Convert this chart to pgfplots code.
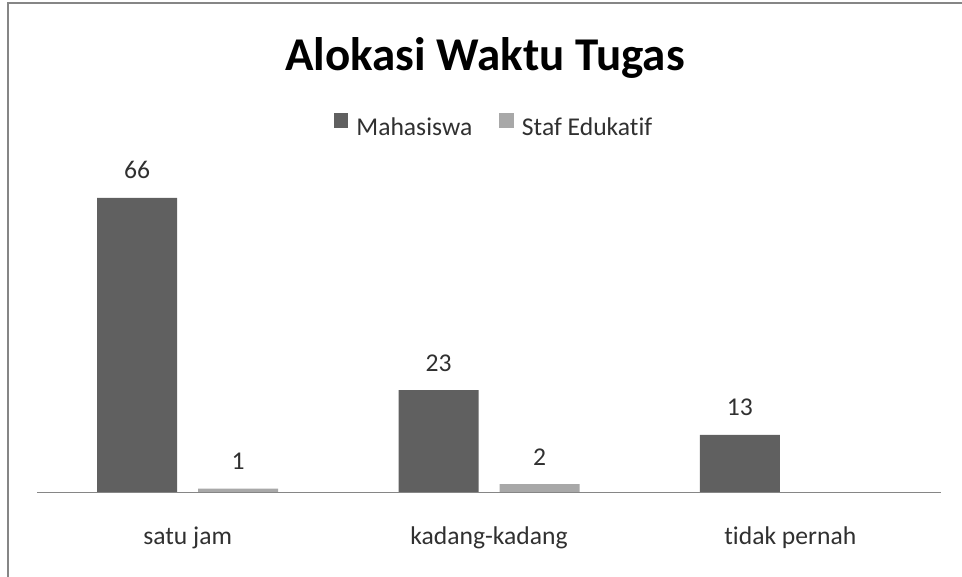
\documentclass[border=0pt]{standalone}
\usepackage{fontspec}
\setmainfont{Carlito}[Ligatures={NoCommon}]
\usepackage{pgfplots}
\pgfplotsset{compat=1.18}
\definecolor{mah}{HTML}{606060}
\definecolor{staf}{HTML}{A8A8A8}
\definecolor{framec}{HTML}{868686}
\definecolor{txt}{HTML}{303030}
\newcommand{\sm}{\fontsize{25.6bp}{30bp}\selectfont}
\begin{document}
\begin{tikzpicture}
\begin{axis}[
  at={(37bp,84bp)}, anchor=south west,
  scale only axis, width=904bp, height=312.9bp,
  xmin=-0.5, xmax=2.5, ymin=0, ymax=70,
  ybar, bar width=80bp, clip=false,
  axis x line=bottom, axis y line=none,
  x axis line style={draw=none},
  xtick={0,1,2}, xticklabels={satu jam, kadang-kadang, tidak pernah},
  major tick length=0pt,
  xticklabel style={font=\sm, text=txt, anchor=base, yshift=-51bp},
  /pgf/number format/assume math mode=true,
  nodes near coords,
  every node near coord/.append style={font=\sm, text=txt, anchor=base, yshift=19bp},
  legend columns=2,
  legend style={draw=none, fill=none, font=\sm, text=txt,
    at={(axis description cs:0.5055,1.173)}, anchor=center,
    /tikz/every odd column/.append style={column sep=6bp},
    /tikz/every even column/.append style={column sep=25bp}},
  legend image code/.code={\fill[#1] (0bp,0bp) rectangle (14.7bp,14.7bp);},
  title={Alokasi Waktu Tugas},
  title style={at={(axis description cs:0.4956,1.330)}, anchor=base,
    font=\fontsize{47bp}{56bp}\selectfont\bfseries, text=black},
]
\addplot[fill=mah, draw=none, bar shift=-50.5bp] coordinates {(0,66) (1,23) (2,13)};
\addlegendentry{Mahasiswa}
\addplot[fill=staf, draw=none, bar shift=50.5bp] coordinates {(0,1) (1,2)};
\addlegendentry{Staf Edukatif}
\draw[framec, line width=1bp] (axis description cs:0,0) -- (axis description cs:1,0);
\end{axis}
\draw[framec, line width=2bp] (8bp,-10bp) -- (8bp,574bp) -- (1000bp,574bp);
\pgfresetboundingbox
\useasboundingbox (0,0) rectangle (962bp,577bp);
\end{tikzpicture}
\end{document}
